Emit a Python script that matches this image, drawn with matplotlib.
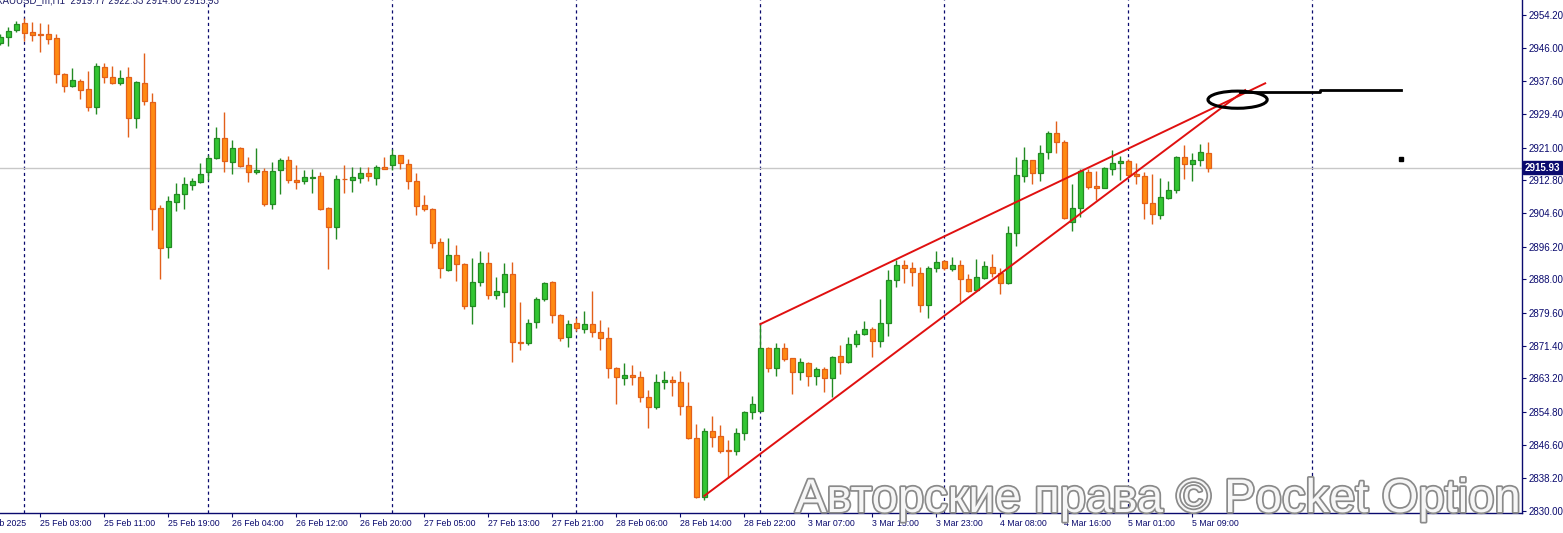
import matplotlib
matplotlib.use("Agg")
import matplotlib.pyplot as plt
import matplotlib.patheffects as pe
from matplotlib.patches import Ellipse
import numpy as np

plt.rcParams['font.family'] = ['Liberation Sans', 'DejaVu Sans']

# XAUUSD_m H1 bars, first bar = 24 Feb 21:00
opens = [2947.1, 2948.8, 2950.4, 2952.1, 2949.9, 2949.4, 2949.4, 2948.4, 2939.4, 2936.5,
         2937.6, 2935.6, 2931.2, 2941.1, 2938.6, 2937.3, 2938.6, 2928.5, 2937.1, 2932.4,
         2905.8, 2896.2, 2907.5, 2909.3, 2911.7, 2912.5, 2915.0, 2918.3, 2923.3, 2917.5,
         2920.8, 2916.6, 2914.8, 2915.1, 2906.8, 2915.3, 2917.8, 2912.8, 2912.6, 2913.5,
         2913.9, 2905.9, 2901.2, 2913.2, 2912.8, 2913.5, 2914.6, 2913.5, 2916.1, 2916.6,
         2919.1, 2916.9, 2912.6, 2906.6, 2905.6, 2897.3, 2890.4, 2894.0, 2891.8, 2881.3,
         2887.3, 2892.0, 2884.0, 2884.9, 2889.3, 2872.3, 2872.0, 2877.3, 2883.0, 2887.3,
         2879.1, 2873.6, 2877.1, 2875.7, 2876.8, 2874.8, 2873.2, 2865.7, 2863.2, 2864.0,
         2863.5, 2858.5, 2856.0, 2862.2, 2862.7, 2862.2, 2856.2, 2848.2, 2833.6, 2850.0,
         2848.7, 2845.2, 2845.1, 2849.5, 2854.7, 2855.1, 2870.7, 2865.7, 2870.7, 2868.2,
         2864.7, 2867.0, 2863.7, 2865.5, 2863.2, 2868.7, 2867.2, 2871.8, 2874.3, 2875.5,
         2872.5, 2877.0, 2887.8, 2891.5, 2890.8, 2889.6, 2881.5, 2890.8, 2892.5, 2890.5,
         2891.5, 2888.0, 2885.3, 2888.3, 2891.0, 2889.5, 2887.1, 2899.5, 2913.9, 2917.8,
         2914.6, 2919.8, 2924.6, 2922.3, 2902.3, 2905.8, 2914.9, 2911.3, 2911.0, 2915.7,
         2917.1, 2917.6, 2914.3, 2913.9, 2907.1, 2904.1, 2908.5, 2910.3, 2918.6, 2916.8,
         2917.8, 2919.77]
highs = [2949.4, 2951.1, 2952.7, 2953.4, 2952.4, 2952.1, 2951.9, 2949.4, 2939.8, 2940.9,
         2938.1, 2940.2, 2942.3, 2942.3, 2941.4, 2940.4, 2941.1, 2937.8, 2944.8, 2934.7,
         2906.6, 2908.9, 2912.2, 2913.7, 2913.3, 2917.1, 2919.2, 2926.1, 2929.9, 2922.9,
         2921.2, 2918.6, 2920.9, 2916.0, 2917.4, 2918.4, 2918.9, 2916.6, 2915.4, 2915.6,
         2914.8, 2906.1, 2914.1, 2916.6, 2916.1, 2916.1, 2916.1, 2916.7, 2918.7, 2920.6,
         2919.2, 2918.1, 2914.6, 2909.1, 2906.0, 2898.4, 2898.4, 2896.5, 2892.0, 2893.4,
         2895.0, 2894.8, 2888.6, 2892.0, 2892.4, 2882.3, 2878.0, 2883.7, 2887.3, 2887.6,
         2879.4, 2877.8, 2878.3, 2880.1, 2885.1, 2877.8, 2876.0, 2866.0, 2867.0, 2866.5,
         2865.0, 2860.3, 2864.2, 2865.0, 2863.8, 2865.0, 2862.3, 2851.7, 2850.7, 2853.8,
         2851.5, 2847.7, 2850.7, 2855.1, 2858.9, 2876.8, 2871.0, 2872.0, 2872.0, 2868.3,
         2868.3, 2867.2, 2866.0, 2866.1, 2868.7, 2871.5, 2873.5, 2875.3, 2877.6, 2876.0,
         2883.0, 2890.3, 2892.9, 2892.9, 2892.3, 2891.0, 2891.3, 2895.0, 2892.9, 2893.5,
         2892.9, 2889.3, 2893.0, 2892.5, 2894.3, 2890.8, 2901.4, 2918.6, 2921.1, 2917.9,
         2921.7, 2925.1, 2927.6, 2922.9, 2911.9, 2915.6, 2915.6, 2915.1, 2916.2, 2920.4,
         2918.8, 2918.2, 2917.2, 2914.9, 2914.3, 2913.3, 2912.6, 2918.9, 2921.7, 2919.6,
         2922.0, 2922.33]
lows = [2946.7, 2946.5, 2950.0, 2947.7, 2947.7, 2945.0, 2946.9, 2937.1, 2934.8, 2936.2,
        2933.2, 2930.2, 2929.3, 2937.1, 2937.0, 2936.8, 2923.7, 2926.0, 2931.7, 2900.4,
        2888.2, 2893.4, 2905.2, 2905.6, 2910.4, 2912.2, 2912.9, 2918.2, 2914.9, 2914.4,
        2916.1, 2912.4, 2914.4, 2906.5, 2905.6, 2909.3, 2912.1, 2910.7, 2911.8, 2909.7,
        2905.3, 2890.7, 2898.2, 2909.7, 2909.9, 2912.2, 2912.6, 2911.7, 2915.6, 2915.4,
        2915.7, 2910.7, 2904.1, 2905.0, 2895.9, 2888.4, 2890.2, 2887.7, 2880.5, 2876.8,
        2886.4, 2883.2, 2883.0, 2881.0, 2867.4, 2870.2, 2871.6, 2875.9, 2882.7, 2877.2,
        2872.6, 2871.1, 2875.0, 2874.6, 2873.6, 2870.2, 2863.4, 2856.9, 2861.6, 2861.6,
        2857.4, 2850.9, 2855.5, 2860.6, 2858.9, 2854.1, 2848.1, 2833.3, 2832.8, 2846.1,
        2844.4, 2838.2, 2843.9, 2847.7, 2853.1, 2854.9, 2864.9, 2863.9, 2867.6, 2859.2,
        2862.9, 2861.2, 2861.6, 2859.9, 2858.6, 2864.2, 2867.0, 2871.0, 2874.0, 2868.6,
        2871.1, 2873.7, 2886.0, 2887.2, 2886.4, 2879.8, 2878.3, 2889.9, 2890.4, 2890.0,
        2882.3, 2884.8, 2885.2, 2888.0, 2888.7, 2884.3, 2886.9, 2896.4, 2912.3, 2911.8,
        2912.7, 2918.2, 2919.6, 2903.2, 2900.2, 2903.5, 2910.7, 2907.9, 2910.9, 2914.1,
        2912.9, 2913.7, 2911.9, 2903.2, 2901.8, 2903.1, 2908.1, 2909.7, 2913.1, 2912.7,
        2916.5, 2914.80]
closes = [2948.8, 2950.3, 2951.9, 2949.8, 2949.3, 2949.3, 2948.3, 2939.4, 2936.5, 2937.9,
          2935.5, 2931.2, 2941.4, 2938.6, 2937.3, 2938.4, 2928.3, 2937.4, 2932.6, 2905.7,
          2895.9, 2907.6, 2909.4, 2911.8, 2912.6, 2914.4, 2918.3, 2923.3, 2917.7, 2920.8,
          2916.4, 2914.8, 2915.3, 2906.8, 2915.1, 2917.8, 2912.8, 2912.5, 2913.6, 2913.6,
          2905.7, 2901.2, 2913.1, 2913.1, 2913.6, 2914.6, 2913.8, 2916.1, 2915.7, 2919.1,
          2917.1, 2912.6, 2906.3, 2905.6, 2897.0, 2890.8, 2894.0, 2891.8, 2881.3, 2887.3,
          2892.0, 2884.0, 2885.0, 2889.3, 2872.2, 2872.0, 2877.1, 2883.1, 2887.1, 2879.0,
          2873.4, 2876.8, 2875.8, 2876.8, 2874.8, 2873.2, 2865.7, 2863.5, 2864.0, 2863.5,
          2858.5, 2856.0, 2862.2, 2862.7, 2862.2, 2856.2, 2848.2, 2833.6, 2850.0, 2848.5,
          2845.1, 2845.1, 2849.5, 2854.7, 2856.7, 2870.7, 2865.7, 2870.7, 2868.0, 2864.7,
          2867.2, 2863.7, 2865.5, 2863.2, 2868.5, 2867.2, 2871.8, 2874.3, 2875.5, 2872.5,
          2877.0, 2887.8, 2891.5, 2890.8, 2889.8, 2881.5, 2890.8, 2892.3, 2890.8, 2891.5,
          2888.0, 2885.2, 2888.5, 2891.3, 2889.5, 2887.0, 2899.7, 2914.1, 2917.8, 2914.6,
          2919.6, 2924.6, 2922.5, 2903.3, 2905.8, 2915.2, 2911.2, 2911.0, 2915.8, 2917.1,
          2917.6, 2914.1, 2913.8, 2907.1, 2904.3, 2908.6, 2910.3, 2918.6, 2916.8, 2917.8,
          2919.8, 2915.93]

# time axis labels (bar index -> text)
tick_bars = [5, 13, 21, 29, 37, 45, 53, 61, 69, 77, 85, 93, 101, 109, 117, 125, 133, 141, 149]
tick_labels = ["25 Feb 03:00", "25 Feb 11:00", "25 Feb 19:00", "26 Feb 04:00", "26 Feb 12:00",
               "26 Feb 20:00", "27 Feb 05:00", "27 Feb 13:00", "27 Feb 21:00", "28 Feb 06:00",
               "28 Feb 14:00", "28 Feb 22:00", "3 Mar 07:00", "3 Mar 15:00", "3 Mar 23:00",
               "4 Mar 08:00", "4 Mar 16:00", "5 Mar 01:00", "5 Mar 09:00"]
day_starts = [3, 26, 49, 72, 95, 118, 141, 164]
price_ticks = [2954.20, 2946.00, 2937.60, 2929.40, 2921.00, 2912.80, 2904.60, 2896.20,
               2888.00, 2879.60, 2871.40, 2863.20, 2854.80, 2846.60, 2838.20, 2830.00]
last_price = 2915.93

# drawn objects (bar index, price)
upper_line_bars = [95, 158.1]
upper_line_prices = [2876.8, 2937.1]
lower_line_bars = [88, 155.6]
lower_line_prices = [2833.8, 2935.4]
circle_center = (154.65, 2933.0)
level_bars = [155, 165, 165, 175.1]
level_prices = [2935.0, 2935.0, 2935.35, 2935.35]
dot_point = (175.05, 2918.1)

NAVY = '#0a0a6e'
fig = plt.figure(figsize=(15.63, 5.33), dpi=100)
ax = fig.add_axes([0, 20 / 533, 1522 / 1563, 513 / 533])
ax.set_xlim(-0.04, 190.2)
ax.set_ylim(2829.5, 2957.96)

x = np.arange(len(opens))
o = np.array(opens); c = np.array(closes)
up = c >= o
fill = np.where(up, '#33c633', '#ff8a12')
edge = np.where(up, '#238a23', '#e2601a')

ax.vlines(x, lows, highs, colors=edge, lw=1.0, zorder=3)
ax.bar(x, np.maximum(np.abs(c - o), 0.08), bottom=np.minimum(o, c), width=0.62,
       color=fill, edgecolor=edge, linewidth=0.9, zorder=4)

# period separators and price line
for d in day_starts:
    ax.axvline(d, color=NAVY, lw=0.9, ls=(0, (2.5, 2.5)), zorder=1)
ax.axhline(last_price, color='#c8c8c8', lw=1, zorder=2)

# trend lines and markup
ax.plot(upper_line_bars, upper_line_prices, color='#e01010', lw=1.4, zorder=5)
ax.plot(lower_line_bars, lower_line_prices, color='#e01010', lw=1.4, zorder=5)
ax.add_patch(Ellipse(circle_center, 7.4, 4.3, fill=False, ec='black', lw=2.2, zorder=6))
ax.plot(level_bars, level_prices, color='black', lw=2.0, zorder=6)
ax.plot([dot_point[0]], [dot_point[1]], 's', color='black', ms=2.4, zorder=6)

# axes styling
for s in ['left', 'top']:
    ax.spines[s].set_visible(False)
for s in ['right', 'bottom']:
    ax.spines[s].set_color(NAVY)
    ax.spines[s].set_linewidth(1.0)
ax.yaxis.tick_right()
ax.set_yticks(price_ticks)
ax.set_yticklabels([f"{p:.2f}" for p in price_ticks])
ax.tick_params(axis='y', colors=NAVY, labelcolor=NAVY, labelsize=7, length=3, pad=2)
ax.set_xticks(tick_bars)
ax.set_xticklabels(tick_labels)
ax.tick_params(axis='x', colors=NAVY, labelcolor=NAVY, labelsize=6.3, length=3, pad=1)
for lbl in ax.get_xticklabels():
    lbl.set_ha('left')
ax.annotate("24 Feb 2025", xy=(-2.9, 0), xycoords=ax.get_xaxis_transform(),
            xytext=(0, -4), textcoords='offset points', ha='left', va='top',
            fontsize=6.3, color=NAVY, annotation_clip=False)

# current price tag
ax.annotate(f"{last_price:.2f}", xy=(1.0, last_price), xycoords=('axes fraction', 'data'),
            xytext=(2, 0), textcoords='offset points', ha='left', va='center',
            fontsize=7, color='white', fontweight='bold',
            bbox=dict(boxstyle='square,pad=0.15', fc=NAVY, ec=NAVY),
            annotation_clip=False)

# header
fig.text(-4 / 1563, 1 - 3 / 533, "XAUUSD_m,H1  2919.77 2922.33 2914.80 2915.93",
         ha='left', va='baseline', fontsize=7, color='#20206a')

# watermark
fig.text(795 / 1563, 21 / 533, "Авторские права © Pocket Option", ha='left', va='baseline',
         fontsize=34, color='#f6f6f6', zorder=10,
         path_effects=[pe.withStroke(linewidth=2.5, foreground='#8a8a8a')])

fig.savefig("out.png", dpi=100)
